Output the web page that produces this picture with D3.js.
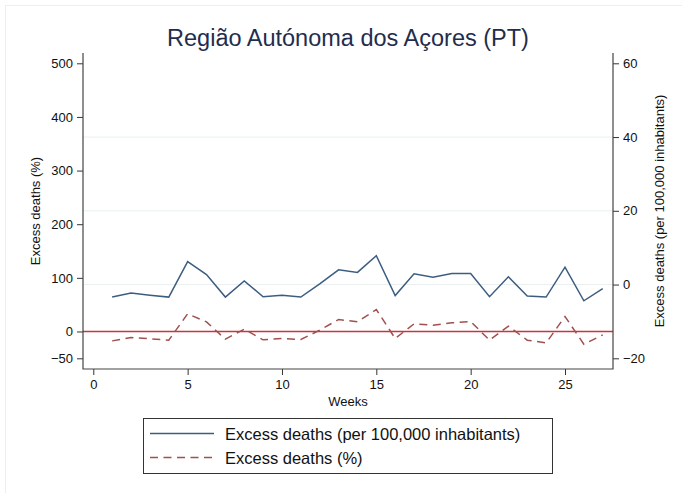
<!DOCTYPE html>
<html>
<head>
<meta charset="utf-8">
<script src="https://cdn.jsdelivr.net/npm/d3@7"></script>
<style>
  html, body { margin: 0; padding: 0; background: #fff; }
  svg { display: block; font-family: "Liberation Sans", Arial, Helvetica, sans-serif; }
</style>
</head>
<body>
<svg id="chart" width="682" height="493"></svg>
<script>
// Weekly excess mortality, Região Autónoma dos Açores
const weeks = d3.range(1, 28);
// Excess deaths per 100,000 inhabitants (right axis)
const excessPer100k = [-3.4, -2.3, -2.9, -3.4, 6.2, 2.7, -3.4, 1.0, -3.3, -2.9, -3.4, 0.2, 4.0, 3.3, 7.8,
                       -3.0, 2.9, 2.0, 3.0, 3.0, -3.3, 2.1, -3.1, -3.4, 4.7, -4.4, -1.1];
// Excess deaths in percent (left axis)
const excessPct = [-17.5, -11.2, -13.7, -16.2, 32.9, 18.0, -14.4, 4.3, -15.6, -13.1, -15.0, 2.4, 22.4, 18.0, 41.0,
                   -13.1, 14.2, 11.8, 16.1, 18.7, -16.2, 9.9, -16.2, -21.2, 28.0, -23.7, -6.3];
const xTicks = [0, 5, 10, 15, 20, 25];
const leftTicks = [-50, 0, 100, 200, 300, 400, 500];
const rightTicks = [-20, 0, 20, 40, 60];
const gridTicks = [0, 20, 40];
const seriesLabels = ["Excess deaths (per 100,000 inhabitants)", "Excess deaths (%)"];
const titleText = "Região Autónoma dos Açores (PT)";

const svg = d3.select("#chart");
const plot = { left: 83, right: 613, top: 53, bottom: 369 };

const blue = "#3d5d80";
const maroon = "#a0504e";
const refRed = "#c8343f";
const ink = "#111";
const dash = "8,5.5";

// outer frame
svg.append("rect").attr("x", 5.5).attr("y", 5.5).attr("width", 700).attr("height", 520)
  .attr("fill", "none").attr("stroke", "#eeeeee");

const x = d3.scaleLinear().domain([0, 25]).range([93.3, 565]);
const yL = d3.scaleLinear().domain([-50, 500]).range([358.3, 63.3]);
const yR = d3.scaleLinear().domain([-20, 60]).range([358.3, 63.3]);

// gridlines (right axis)
svg.append("g").selectAll("line").data(gridTicks).join("line")
  .attr("x1", plot.left).attr("x2", plot.right)
  .attr("y1", d => yR(d)).attr("y2", d => yR(d))
  .attr("stroke", "#e9efef").attr("stroke-width", 1);

// reference line at 0%
svg.append("line")
  .attr("x1", plot.left).attr("x2", plot.right)
  .attr("y1", yL(0)).attr("y2", yL(0))
  .attr("stroke", refRed).attr("stroke-width", 1.4);

// series
const lineR = d3.line().x((d, i) => x(weeks[i])).y(d => yR(d));
const lineL = d3.line().x((d, i) => x(weeks[i])).y(d => yL(d));

svg.append("path").datum(excessPct).attr("d", lineL)
  .attr("fill", "none").attr("stroke", maroon).attr("stroke-width", 1.5)
  .attr("stroke-dasharray", dash);

svg.append("path").datum(excessPer100k).attr("d", lineR)
  .attr("fill", "none").attr("stroke", blue).attr("stroke-width", 1.5);

// axes
function styleAxis(g) {
  g.select(".domain").remove();
  g.selectAll(".tick line").attr("stroke", "#333");
  g.selectAll(".tick text").attr("fill", ink).style("font-size", "13px")
    .style("font-family", "'Liberation Sans', Arial, sans-serif");
}

const gL = svg.append("g").attr("transform", `translate(${plot.left},0)`)
  .call(d3.axisLeft(yL).tickValues(leftTicks).tickSize(6).tickPadding(4));
styleAxis(gL);
const gR = svg.append("g").attr("transform", `translate(${plot.right},0)`)
  .call(d3.axisRight(yR).tickValues(rightTicks).tickSize(6).tickPadding(4));
styleAxis(gR);
const gB = svg.append("g").attr("transform", `translate(0,${plot.bottom})`)
  .call(d3.axisBottom(x).tickValues(xTicks).tickSize(6).tickPadding(5));
styleAxis(gB);

// axis lines
svg.append("path")
  .attr("d", `M${plot.left},${plot.top}V${plot.bottom}H${plot.right}V${plot.top}`)
  .attr("fill", "none").attr("stroke", "#444").attr("stroke-width", 1.2);

// titles
svg.append("text").attr("x", (plot.left + plot.right) / 2).attr("y", 46)
  .attr("text-anchor", "middle").attr("fill", "#1f2d4e")
  .style("font-size", "23.5px").text(titleText);

svg.append("text").attr("x", (plot.left + plot.right) / 2).attr("y", 406)
  .attr("text-anchor", "middle").attr("fill", ink).style("font-size", "13px").text("Weeks");

svg.append("text")
  .attr("transform", `translate(40,${(plot.top + plot.bottom) / 2}) rotate(-90)`)
  .attr("text-anchor", "middle").attr("fill", ink).style("font-size", "13px")
  .text("Excess deaths (%)");

svg.append("text")
  .attr("transform", `translate(664,${(plot.top + plot.bottom) / 2}) rotate(-90)`)
  .attr("text-anchor", "middle").attr("fill", ink).style("font-size", "13px")
  .text("Excess deaths (per 100,000 inhabitants)");

// legend
const lg = svg.append("g");
lg.append("rect").attr("x", 143.5).attr("y", 418.5).attr("width", 409).attr("height", 55)
  .attr("fill", "#fff").attr("stroke", "#333").attr("stroke-width", 1);
const legendItems = [
  { label: seriesLabels[0], color: blue, dash: null, y: 433.5 },
  { label: seriesLabels[1], color: maroon, dash: dash, y: 457.5 }
];
legendItems.forEach(it => {
  lg.append("line").attr("x1", 150).attr("x2", 214).attr("y1", it.y).attr("y2", it.y)
    .attr("stroke", it.color).attr("stroke-width", 1.5)
    .attr("stroke-dasharray", it.dash);
  lg.append("text").attr("x", 225).attr("y", it.y + 6).attr("fill", ink)
    .style("font-size", "16.5px").text(it.label);
});
</script>
</body>
</html>
